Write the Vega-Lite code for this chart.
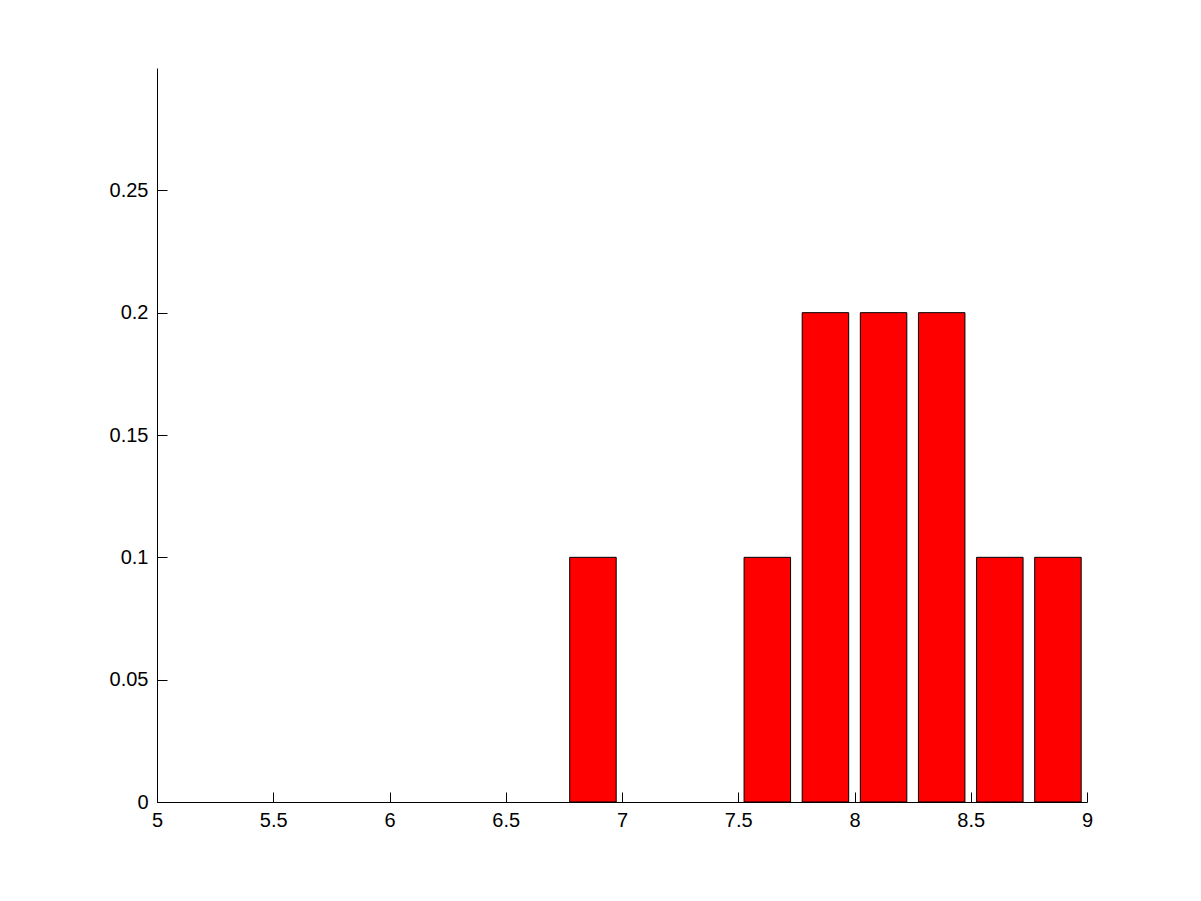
{
  "$schema": "https://vega.github.io/schema/vega-lite/v6.json",
  "width": 930,
  "height": 734,
  "autosize": {"type": "none"},
  "padding": {"left": 157, "top": 68, "right": 114, "bottom": 99},
  "background": "white",
  "config": {
    "view": {"stroke": null},
    "axis": {
      "labelFont": "Liberation Sans",
      "labelFontSize": 20,
      "labelColor": "black",
      "domainColor": "black",
      "tickColor": "black",
      "grid": false,
      "title": null,
      "domainWidth": 1,
      "tickWidth": 1
    }
  },
  "data": {
    "values": [
      {"x0": 6.775, "x1": 6.975, "y": 0.1},
      {"x0": 7.525, "x1": 7.725, "y": 0.1},
      {"x0": 7.775, "x1": 7.975, "y": 0.2},
      {"x0": 8.025, "x1": 8.225, "y": 0.2},
      {"x0": 8.275, "x1": 8.475, "y": 0.2},
      {"x0": 8.525, "x1": 8.725, "y": 0.1},
      {"x0": 8.775, "x1": 8.975, "y": 0.1}
    ]
  },
  "layer": [
    {
      "mark": {"type": "bar", "color": "#ff0000", "stroke": "black", "strokeWidth": 1},
      "encoding": {
        "x": {
          "field": "x0", "type": "quantitative",
          "scale": {"domain": [5, 9], "nice": false, "zero": false},
          "axis": {"orient": "bottom", "values": [5, 5.5, 6, 6.5, 7, 7.5, 8, 8.5, 9], "format": "~g", "ticks": false, "labelPadding": 8, "labelFlush": false, "labelOverlap": false}
        },
        "x2": {"field": "x1"},
        "y": {
          "field": "y", "type": "quantitative",
          "scale": {"domain": [0, 0.3], "nice": false},
          "axis": {"orient": "left", "values": [0, 0.05, 0.1, 0.15, 0.2, 0.25], "format": "~g", "ticks": false, "labelPadding": 9, "labelFlush": false, "labelOverlap": false}
        },
        "y2": {"datum": 0}
      }
    },
    {
      "mark": {"type": "bar", "opacity": 0},
      "encoding": {
        "x": {
          "field": "x0", "type": "quantitative",
          "axis": {"orient": "top", "offset": -734, "values": [5, 5.5, 6, 6.5, 7, 7.5, 8, 8.5, 9], "labels": false, "domain": false, "ticks": true, "tickSize": 10}
        },
        "x2": {"field": "x1"},
        "y": {
          "field": "y", "type": "quantitative",
          "axis": {"orient": "right", "offset": -930, "values": [0, 0.05, 0.1, 0.15, 0.2, 0.25], "labels": false, "domain": false, "ticks": true, "tickSize": 10}
        },
        "y2": {"datum": 0}
      }
    }
  ],
  "resolve": {"axis": {"x": "independent", "y": "independent"}}
}
